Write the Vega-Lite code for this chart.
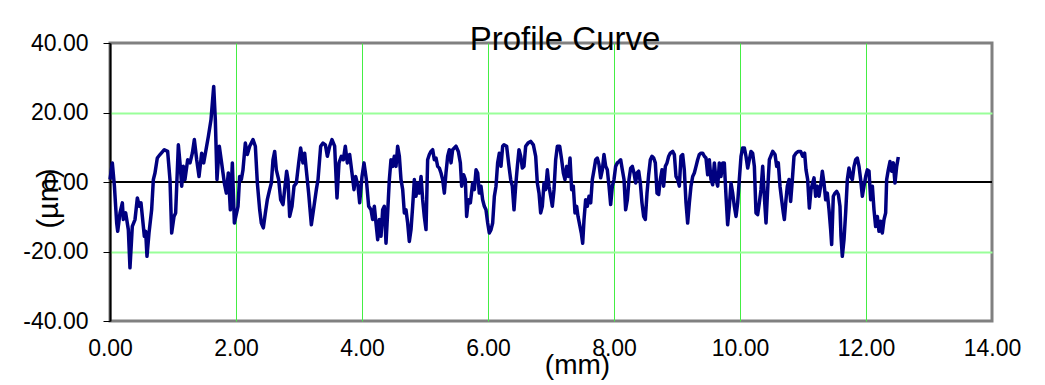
{
  "$schema": "https://vega.github.io/schema/vega-lite/v6.json",
  "width": 882,
  "height": 278,
  "autosize": "none",
  "padding": {"left": 110, "top": 43, "right": 53, "bottom": 64},
  "background": "white",
  "title": {
    "text": "Profile Curve",
    "font": "Liberation Sans",
    "fontSize": 33,
    "fontWeight": "normal",
    "color": "#000000",
    "anchor": "middle",
    "frame": "group",
    "baseline": "alphabetic",
    "dx": 14,
    "dy": 55
  },
  "config": {
    "view": {"stroke": "#808080", "strokeWidth": 3},
    "axis": {"labelFont": "Liberation Sans", "titleFont": "Liberation Sans", "labelColor": "#000000", "titleColor": "#000000", "titleFontWeight": "normal"}
  },
  "data": {
    "values": [
      {"x": 0, "y": 0.7}, {"x": 0.037, "y": 5.5}, {"x": 0.07, "y": -1.2}, {"x": 0.106, "y": -11.8}, {"x": 0.122, "y": -14.2},
      {"x": 0.159, "y": -8.9}, {"x": 0.196, "y": -6.0}, {"x": 0.212, "y": -10.8}, {"x": 0.249, "y": -8.9}, {"x": 0.291, "y": -13.7},
      {"x": 0.317, "y": -24.7}, {"x": 0.354, "y": -12.8}, {"x": 0.397, "y": -10.8}, {"x": 0.434, "y": -4.6}, {"x": 0.466, "y": -7.0},
      {"x": 0.492, "y": -6.0}, {"x": 0.545, "y": -15.6}, {"x": 0.566, "y": -14.2}, {"x": 0.587, "y": -21.4}, {"x": 0.619, "y": -14.7},
      {"x": 0.661, "y": -8.0}, {"x": 0.688, "y": 0.7}, {"x": 0.714, "y": 2.6}, {"x": 0.751, "y": 6.9}, {"x": 0.794, "y": 7.9},
      {"x": 0.862, "y": 9.3}, {"x": 0.915, "y": 8.8}, {"x": 0.952, "y": 0.7}, {"x": 0.979, "y": -14.7}, {"x": 1.016, "y": -9.9},
      {"x": 1.042, "y": -8.9}, {"x": 1.085, "y": 10.7}, {"x": 1.111, "y": 5.5}, {"x": 1.138, "y": -1.2}, {"x": 1.164, "y": 4.5},
      {"x": 1.19, "y": 0.7}, {"x": 1.233, "y": 6.4}, {"x": 1.27, "y": 5.5}, {"x": 1.307, "y": 8.3}, {"x": 1.339, "y": 12.2},
      {"x": 1.376, "y": 6.4}, {"x": 1.413, "y": 1.6}, {"x": 1.455, "y": 8.3}, {"x": 1.487, "y": 5.5}, {"x": 1.524, "y": 9.3},
      {"x": 1.561, "y": 13.1}, {"x": 1.603, "y": 17.9}, {"x": 1.646, "y": 27.5}, {"x": 1.672, "y": 17.9}, {"x": 1.698, "y": 0.7},
      {"x": 1.735, "y": 10.3}, {"x": 1.772, "y": 5.5}, {"x": 1.815, "y": -0.3}, {"x": 1.847, "y": -3.2}, {"x": 1.878, "y": 2.6},
      {"x": 1.91, "y": -8.0}, {"x": 1.942, "y": 5.5}, {"x": 1.974, "y": -11.8}, {"x": 2.032, "y": -7.0}, {"x": 2.058, "y": 1.6},
      {"x": 2.085, "y": 0.7}, {"x": 2.111, "y": 3.5}, {"x": 2.148, "y": 11.2}, {"x": 2.18, "y": 7.9}, {"x": 2.217, "y": 10.3},
      {"x": 2.27, "y": 12.2}, {"x": 2.307, "y": 10.3}, {"x": 2.339, "y": -0.3}, {"x": 2.376, "y": -8.0}, {"x": 2.402, "y": -11.8},
      {"x": 2.434, "y": -13.2}, {"x": 2.466, "y": -8.9}, {"x": 2.497, "y": -5.1}, {"x": 2.534, "y": -2.2}, {"x": 2.561, "y": -0.3},
      {"x": 2.587, "y": 6.4}, {"x": 2.614, "y": 8.8}, {"x": 2.64, "y": 3.5}, {"x": 2.677, "y": 0.7}, {"x": 2.709, "y": -5.1},
      {"x": 2.746, "y": -6.5}, {"x": 2.772, "y": -2.2}, {"x": 2.804, "y": 3.1}, {"x": 2.825, "y": 0.7}, {"x": 2.852, "y": -9.9},
      {"x": 2.889, "y": -7.0}, {"x": 2.921, "y": -1.2}, {"x": 2.958, "y": -0.3}, {"x": 2.995, "y": 5.5}, {"x": 3.026, "y": 9.8},
      {"x": 3.063, "y": 5.5}, {"x": 3.09, "y": 8.3}, {"x": 3.116, "y": 3.5}, {"x": 3.153, "y": -3.2}, {"x": 3.196, "y": -12.3},
      {"x": 3.238, "y": -7.0}, {"x": 3.275, "y": -2.2}, {"x": 3.302, "y": 0.7}, {"x": 3.344, "y": 10.3}, {"x": 3.381, "y": 11.2},
      {"x": 3.418, "y": 10.7}, {"x": 3.45, "y": 7.4}, {"x": 3.487, "y": 10.3}, {"x": 3.524, "y": 12.2}, {"x": 3.566, "y": 10.3},
      {"x": 3.603, "y": -4.6}, {"x": 3.635, "y": 5.5}, {"x": 3.672, "y": 7.4}, {"x": 3.704, "y": 6.4}, {"x": 3.735, "y": 10.3},
      {"x": 3.767, "y": 5.5}, {"x": 3.804, "y": 7.9}, {"x": 3.841, "y": 2.6}, {"x": 3.873, "y": -2.2}, {"x": 3.899, "y": 1.6},
      {"x": 3.937, "y": -1.2}, {"x": 3.963, "y": -6.0}, {"x": 4.0, "y": 1.6}, {"x": 4.032, "y": 5.5}, {"x": 4.069, "y": 0.7},
      {"x": 4.106, "y": -7.0}, {"x": 4.143, "y": -8.0}, {"x": 4.169, "y": -10.8}, {"x": 4.196, "y": -7.0}, {"x": 4.222, "y": -11.8},
      {"x": 4.249, "y": -16.6}, {"x": 4.275, "y": -10.8}, {"x": 4.302, "y": -15.6}, {"x": 4.328, "y": -8.0}, {"x": 4.354, "y": -7.0},
      {"x": 4.381, "y": -17.6}, {"x": 4.407, "y": -8.9}, {"x": 4.434, "y": 0.7}, {"x": 4.46, "y": 6.4}, {"x": 4.487, "y": 4.5},
      {"x": 4.513, "y": 7.4}, {"x": 4.54, "y": 4.5}, {"x": 4.566, "y": 10.3}, {"x": 4.593, "y": 7.4}, {"x": 4.619, "y": 0.7},
      {"x": 4.646, "y": -2.2}, {"x": 4.672, "y": -8.9}, {"x": 4.698, "y": -8.0}, {"x": 4.725, "y": -11.8}, {"x": 4.751, "y": -17.1},
      {"x": 4.778, "y": -13.7}, {"x": 4.804, "y": -7.0}, {"x": 4.831, "y": 0.7}, {"x": 4.857, "y": -4.1}, {"x": 4.884, "y": -0.3},
      {"x": 4.91, "y": -3.2}, {"x": 4.937, "y": 1.6}, {"x": 4.963, "y": -5.1}, {"x": 4.989, "y": -9.9}, {"x": 5.016, "y": -13.7},
      {"x": 5.042, "y": 6.4}, {"x": 5.069, "y": 7.9}, {"x": 5.095, "y": 8.8}, {"x": 5.122, "y": 9.3}, {"x": 5.148, "y": 6.4},
      {"x": 5.175, "y": 6.9}, {"x": 5.201, "y": 4.5}, {"x": 5.228, "y": 4.0}, {"x": 5.254, "y": 2.6}, {"x": 5.28, "y": 0.7},
      {"x": 5.307, "y": -3.2}, {"x": 5.333, "y": 2.6}, {"x": 5.36, "y": 7.4}, {"x": 5.386, "y": 9.3}, {"x": 5.413, "y": 5.5},
      {"x": 5.439, "y": 9.3}, {"x": 5.492, "y": 10.3}, {"x": 5.529, "y": 8.8}, {"x": 5.561, "y": 5.5}, {"x": 5.582, "y": -1.2},
      {"x": 5.614, "y": 2.1}, {"x": 5.64, "y": 0.7}, {"x": 5.661, "y": -9.9}, {"x": 5.688, "y": -5.1}, {"x": 5.72, "y": -6.0},
      {"x": 5.757, "y": -0.3}, {"x": 5.783, "y": -2.2}, {"x": 5.81, "y": 3.5}, {"x": 5.836, "y": 2.6}, {"x": 5.862, "y": -3.2},
      {"x": 5.889, "y": -1.2}, {"x": 5.915, "y": -5.1}, {"x": 5.942, "y": -7.0}, {"x": 5.968, "y": -8.0}, {"x": 5.995, "y": -11.8},
      {"x": 6.021, "y": -14.7}, {"x": 6.048, "y": -13.7}, {"x": 6.074, "y": -11.8}, {"x": 6.101, "y": -4.1}, {"x": 6.127, "y": -1.2},
      {"x": 6.153, "y": 5.5}, {"x": 6.18, "y": 8.3}, {"x": 6.206, "y": 4.5}, {"x": 6.233, "y": 10.3}, {"x": 6.254, "y": 10.7},
      {"x": 6.296, "y": 10.3}, {"x": 6.333, "y": 4.5}, {"x": 6.36, "y": 0.7}, {"x": 6.386, "y": -1.2}, {"x": 6.413, "y": -8.0},
      {"x": 6.439, "y": -1.2}, {"x": 6.466, "y": 4.5}, {"x": 6.492, "y": 9.3}, {"x": 6.519, "y": 7.4}, {"x": 6.545, "y": 4.0},
      {"x": 6.571, "y": 4.5}, {"x": 6.598, "y": 10.3}, {"x": 6.635, "y": 11.2}, {"x": 6.677, "y": 11.7}, {"x": 6.72, "y": 10.7},
      {"x": 6.757, "y": 7.4}, {"x": 6.783, "y": -0.3}, {"x": 6.81, "y": -3.2}, {"x": 6.836, "y": -8.9}, {"x": 6.862, "y": -7.0},
      {"x": 6.889, "y": -0.3}, {"x": 6.915, "y": -2.2}, {"x": 6.942, "y": 3.5}, {"x": 6.968, "y": -1.2}, {"x": 6.995, "y": -4.1},
      {"x": 7.021, "y": -7.0}, {"x": 7.048, "y": -2.2}, {"x": 7.074, "y": 6.4}, {"x": 7.101, "y": 10.3}, {"x": 7.138, "y": 10.3},
      {"x": 7.169, "y": 6.4}, {"x": 7.196, "y": 2.6}, {"x": 7.222, "y": 0.7}, {"x": 7.249, "y": 4.5}, {"x": 7.275, "y": 1.6},
      {"x": 7.302, "y": 6.9}, {"x": 7.328, "y": -2.2}, {"x": 7.354, "y": -1.2}, {"x": 7.381, "y": -8.9}, {"x": 7.407, "y": -7.0},
      {"x": 7.429, "y": -9.9}, {"x": 7.46, "y": -12.8}, {"x": 7.481, "y": -14.7}, {"x": 7.503, "y": -17.6}, {"x": 7.524, "y": -10.8},
      {"x": 7.55, "y": -5.1}, {"x": 7.577, "y": -7.0}, {"x": 7.603, "y": -4.1}, {"x": 7.63, "y": -6.0}, {"x": 7.656, "y": 0.7},
      {"x": 7.683, "y": 3.5}, {"x": 7.709, "y": 6.4}, {"x": 7.735, "y": 6.9}, {"x": 7.762, "y": 5.0}, {"x": 7.788, "y": 1.2},
      {"x": 7.815, "y": 3.5}, {"x": 7.841, "y": 7.9}, {"x": 7.868, "y": 4.5}, {"x": 7.894, "y": 3.5}, {"x": 7.921, "y": -1.2},
      {"x": 7.947, "y": -6.5}, {"x": 7.974, "y": -1.2}, {"x": 8.0, "y": 0.7}, {"x": 8.026, "y": 4.5}, {"x": 8.053, "y": 5.5},
      {"x": 8.079, "y": 5.9}, {"x": 8.106, "y": 6.4}, {"x": 8.132, "y": 3.5}, {"x": 8.159, "y": 0.7}, {"x": 8.185, "y": -8.0},
      {"x": 8.212, "y": -5.1}, {"x": 8.238, "y": 0.7}, {"x": 8.265, "y": 4.0}, {"x": 8.291, "y": 4.5}, {"x": 8.317, "y": 2.6},
      {"x": 8.344, "y": -0.3}, {"x": 8.365, "y": 2.6}, {"x": 8.392, "y": 3.1}, {"x": 8.418, "y": -0.3}, {"x": 8.444, "y": -6.0},
      {"x": 8.471, "y": -9.9}, {"x": 8.497, "y": -10.8}, {"x": 8.524, "y": -3.2}, {"x": 8.55, "y": 2.1}, {"x": 8.577, "y": 6.4},
      {"x": 8.603, "y": 7.4}, {"x": 8.63, "y": 6.9}, {"x": 8.656, "y": 5.5}, {"x": 8.683, "y": -3.2}, {"x": 8.709, "y": -3.6},
      {"x": 8.735, "y": 0.7}, {"x": 8.762, "y": 3.5}, {"x": 8.788, "y": -1.2}, {"x": 8.815, "y": 4.5}, {"x": 8.841, "y": 5.5},
      {"x": 8.868, "y": 7.4}, {"x": 8.894, "y": 8.3}, {"x": 8.931, "y": 8.8}, {"x": 8.958, "y": 7.9}, {"x": 8.984, "y": 1.6},
      {"x": 9.011, "y": 0.7}, {"x": 9.037, "y": -1.2}, {"x": 9.063, "y": 7.4}, {"x": 9.09, "y": 7.9}, {"x": 9.116, "y": 3.5},
      {"x": 9.143, "y": -6.0}, {"x": 9.169, "y": -11.8}, {"x": 9.196, "y": -6.0}, {"x": 9.222, "y": -1.2}, {"x": 9.249, "y": 1.6},
      {"x": 9.275, "y": 2.6}, {"x": 9.302, "y": 4.5}, {"x": 9.328, "y": 6.4}, {"x": 9.354, "y": 7.9}, {"x": 9.381, "y": 8.3},
      {"x": 9.407, "y": 8.3}, {"x": 9.434, "y": 7.4}, {"x": 9.46, "y": 6.9}, {"x": 9.487, "y": 2.1}, {"x": 9.513, "y": 6.4},
      {"x": 9.54, "y": 0.7}, {"x": 9.566, "y": -0.8}, {"x": 9.593, "y": 5.5}, {"x": 9.619, "y": 0.7}, {"x": 9.646, "y": -1.2},
      {"x": 9.672, "y": 5.5}, {"x": 9.698, "y": 1.6}, {"x": 9.725, "y": 5.5}, {"x": 9.751, "y": 5.5}, {"x": 9.778, "y": -4.1},
      {"x": 9.804, "y": -12.3}, {"x": 9.831, "y": -7.0}, {"x": 9.857, "y": -0.3}, {"x": 9.884, "y": -3.2}, {"x": 9.91, "y": -7.0},
      {"x": 9.937, "y": -9.9}, {"x": 9.963, "y": -6.0}, {"x": 9.989, "y": 0.7}, {"x": 10.016, "y": 7.4}, {"x": 10.042, "y": 9.8},
      {"x": 10.069, "y": 9.8}, {"x": 10.095, "y": 7.4}, {"x": 10.122, "y": 4.0}, {"x": 10.148, "y": 6.4}, {"x": 10.175, "y": 8.8},
      {"x": 10.201, "y": 8.3}, {"x": 10.228, "y": 4.5}, {"x": 10.254, "y": -8.9}, {"x": 10.28, "y": -9.4}, {"x": 10.307, "y": -6.0},
      {"x": 10.333, "y": -2.2}, {"x": 10.36, "y": 4.5}, {"x": 10.386, "y": -4.1}, {"x": 10.413, "y": -11.8}, {"x": 10.439, "y": -2.2},
      {"x": 10.466, "y": 6.4}, {"x": 10.519, "y": 8.8}, {"x": 10.556, "y": 7.9}, {"x": 10.582, "y": 4.5}, {"x": 10.608, "y": 5.5},
      {"x": 10.635, "y": -1.2}, {"x": 10.661, "y": -5.1}, {"x": 10.688, "y": -8.9}, {"x": 10.704, "y": -10.8}, {"x": 10.73, "y": -5.1},
      {"x": 10.751, "y": -1.2}, {"x": 10.778, "y": 0.7}, {"x": 10.804, "y": -5.6}, {"x": 10.831, "y": 0.7}, {"x": 10.857, "y": 7.4},
      {"x": 10.889, "y": 8.3}, {"x": 10.926, "y": 8.8}, {"x": 10.963, "y": 8.8}, {"x": 10.995, "y": 7.4}, {"x": 11.026, "y": 8.3},
      {"x": 11.048, "y": 3.5}, {"x": 11.074, "y": 0.7}, {"x": 11.101, "y": -7.5}, {"x": 11.127, "y": -2.2}, {"x": 11.153, "y": -0.3},
      {"x": 11.175, "y": 1.2}, {"x": 11.201, "y": -4.1}, {"x": 11.228, "y": -1.2}, {"x": 11.254, "y": -4.1}, {"x": 11.28, "y": -1.2},
      {"x": 11.307, "y": 3.1}, {"x": 11.333, "y": -0.3}, {"x": 11.36, "y": -5.1}, {"x": 11.386, "y": -3.2}, {"x": 11.413, "y": -8.0},
      {"x": 11.439, "y": -13.7}, {"x": 11.455, "y": -18.0}, {"x": 11.481, "y": -4.1}, {"x": 11.508, "y": -3.2}, {"x": 11.534, "y": -2.7},
      {"x": 11.561, "y": -3.6}, {"x": 11.587, "y": -7.0}, {"x": 11.603, "y": -15.6}, {"x": 11.624, "y": -21.4}, {"x": 11.651, "y": -16.6},
      {"x": 11.677, "y": -8.9}, {"x": 11.704, "y": 0.7}, {"x": 11.73, "y": 4.0}, {"x": 11.757, "y": 1.6}, {"x": 11.783, "y": 0.7},
      {"x": 11.81, "y": 4.5}, {"x": 11.836, "y": 6.4}, {"x": 11.862, "y": 6.9}, {"x": 11.889, "y": 4.5}, {"x": 11.915, "y": 0.7},
      {"x": 11.942, "y": -4.1}, {"x": 11.968, "y": -1.2}, {"x": 11.995, "y": 1.6}, {"x": 12.021, "y": 3.5}, {"x": 12.048, "y": 3.1},
      {"x": 12.074, "y": -5.1}, {"x": 12.101, "y": -1.2}, {"x": 12.127, "y": -8.0}, {"x": 12.153, "y": -12.8}, {"x": 12.18, "y": -9.9},
      {"x": 12.206, "y": -14.2}, {"x": 12.233, "y": -11.3}, {"x": 12.259, "y": -14.7}, {"x": 12.286, "y": -10.8}, {"x": 12.312, "y": -8.9},
      {"x": 12.328, "y": 0.7}, {"x": 12.354, "y": 3.5}, {"x": 12.381, "y": 5.9}, {"x": 12.407, "y": 3.1}, {"x": 12.434, "y": 5.5},
      {"x": 12.46, "y": -0.3}, {"x": 12.487, "y": 4.5}, {"x": 12.513, "y": 7.2}
    ]
  },
  "encoding": {
    "x": {
      "field": "x", "type": "quantitative",
      "scale": {"domain": [0, 14], "nice": false, "zero": false},
      "axis": {
        "values": [0, 2, 4, 6, 8, 10, 12, 14], "format": ".2f", "title": "(mm)",
        "grid": true,
        "gridColor": {"condition": {"test": "datum.value == 0 || datum.value == 14", "value": "transparent"}, "value": "#44ee44"},
        "gridWidth": 1,
        "domain": false, "ticks": false,
        "labelFontSize": 23, "labelPadding": 16, "labelFlush": false, "labelOverlap": false,
        "titleFontSize": 28, "titleX": 467, "titleY": 52, "titleAlign": "center", "titleBaseline": "alphabetic"
      }
    },
    "y": {
      "field": "y", "type": "quantitative",
      "scale": {"domain": [-40, 40], "nice": false},
      "axis": {
        "values": [-40, -20, 0, 20, 40], "format": ".2f", "title": "(µm)",
        "labelExpr": "replace(datum.label, '−', '-')",
        "grid": true,
        "gridColor": {"condition": {"test": "abs(datum.value) == 40 || datum.value == 0", "value": "transparent"}, "value": "#99ff99"},
        "gridWidth": 2,
        "domainColor": "#000000", "domainWidth": 2,
        "tickColor": "#000000", "tickSize": 7, "tickWidth": 1,
        "labelFontSize": 23, "labelPadding": 15, "labelFlush": false, "labelOverlap": false,
        "titleFontSize": 29, "titleAngle": -90, "titleX": -53, "titleY": 155, "titleAlign": "center", "titleBaseline": "alphabetic"
      }
    }
  },
  "layer": [
    {
      "mark": {"type": "rule", "color": "#000000", "strokeWidth": 1},
      "encoding": {"y": {"datum": 0}, "x": null}
    },
    {
      "mark": {"type": "line", "color": "#000080", "strokeWidth": 3.5, "strokeJoin": "round"}
    }
  ]
}
